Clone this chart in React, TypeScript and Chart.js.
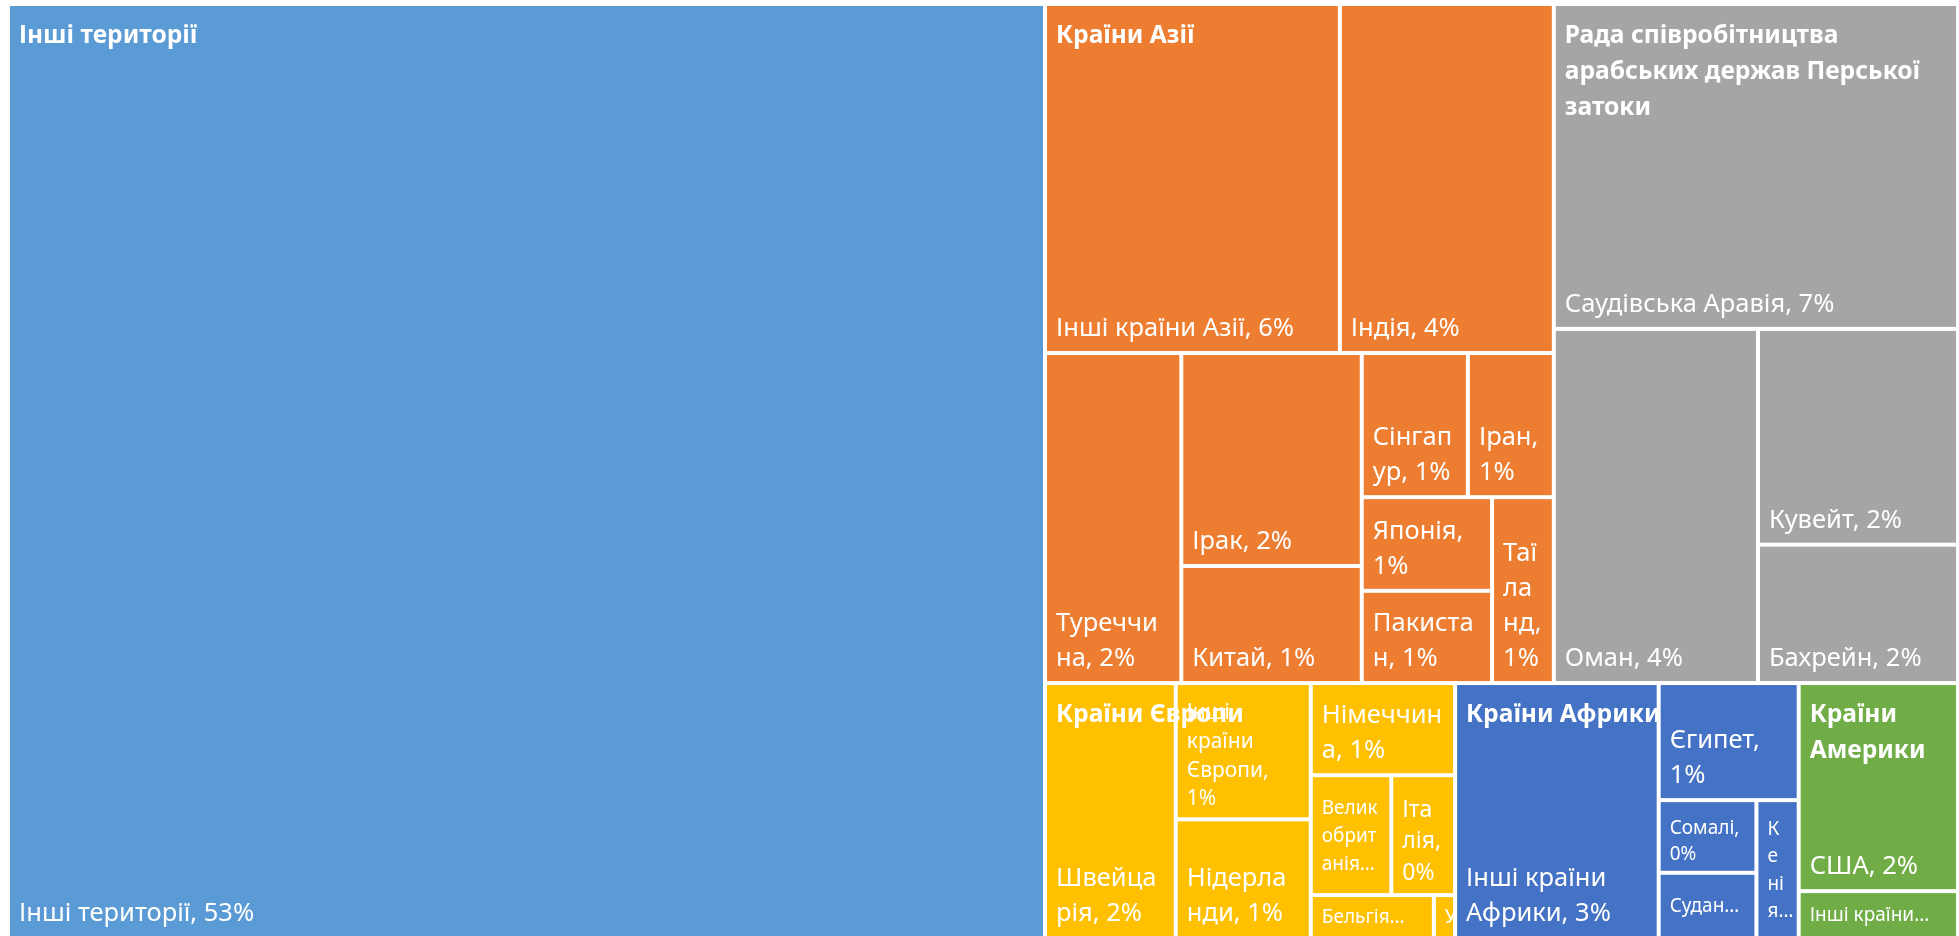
import React, { useEffect, useRef } from "react";
import { Chart, registerables } from "chart.js";

Chart.register(...registerables);

// ---- data (shares of total, %) ----
const groupNames = [
  "Інші території",
  "Країни Азії",
  "Рада співробітництва арабських держав Перської затоки",
  "Країни Європи",
  "Країни Африки",
  "Країни Америки",
];
const groupColors = ["#5B9BD5", "#ED7D31", "#A5A5A5", "#FFC000", "#4472C4", "#70AD47"];

const otherLabels = ["Інші території"];
const otherValues = [53.18];

const asiaLabels = [
  "Інші країни Азії",
  "Індія",
  "Туреччина",
  "Ірак",
  "Китай",
  "Сінгапур",
  "Іран",
  "Японія",
  "Пакистан",
  "Таїланд",
];
const asiaValues = [5.65, 4.1, 2.47, 2.11, 1.16, 0.84, 0.68, 0.67, 0.66, 0.63];

const gccLabels = ["Саудівська Аравія", "Оман", "Кувейт", "Бахрейн"];
const gccValues = [7.21, 3.97, 2.37, 1.52];

const europeLabels = [
  "Швейцарія",
  "Інші країни Європи",
  "Нідерланди",
  "Німеччина",
  "Великобританія",
  "Італія",
  "Бельгія",
  "Угорщина",
];
const europeValues = [1.83, 1.01, 0.88, 0.73, 0.53, 0.42, 0.29, 0.05];

const africaLabels = ["Інші країни Африки", "Єгипет", "Сомалі", "Судан", "Кенія"];
const africaValues = [2.85, 0.9, 0.39, 0.35, 0.32];

const americaLabels = ["США", "Інші країни Америки"];
const americaValues = [1.82, 0.41];

const childLabels = [otherLabels, asiaLabels, gccLabels, europeLabels, africaLabels, americaLabels];
const childValues = [otherValues, asiaValues, gccValues, europeValues, africaValues, americaValues];

// ---- layout helpers ----
type Rect = { x: number; y: number; w: number; h: number };
const TARGET_ASPECT = 1.25; // preferred tile height / width

function rowRects(values: number[], start: number, end: number, rect: Rect, remaining: number): Rect[] {
  let sum = 0;
  for (let k = start; k < end; k++) sum += values[k];
  const out: Rect[] = [];
  if (rect.w >= rect.h) {
    const cw = remaining > 0 ? (rect.w * sum) / remaining : rect.w;
    let cy = rect.y;
    for (let k = start; k < end; k++) {
      const ch = (rect.h * values[k]) / sum;
      out.push({ x: rect.x, y: cy, w: cw, h: ch });
      cy += ch;
    }
  } else {
    const rh = remaining > 0 ? (rect.h * sum) / remaining : rect.h;
    let cx = rect.x;
    for (let k = start; k < end; k++) {
      const cw = (rect.w * values[k]) / sum;
      out.push({ x: cx, y: rect.y, w: cw, h: rh });
      cx += cw;
    }
  }
  return out;
}

function score(rs: Rect[]): number {
  let worst = 0;
  for (const r of rs) {
    const a = r.h / r.w;
    worst = Math.max(worst, a / TARGET_ASPECT, TARGET_ASPECT / a);
  }
  return worst;
}

function squarify(values: number[], area: Rect): Rect[] {
  const out: Rect[] = new Array(values.length);
  const rect = { ...area };
  let remaining = values.reduce((a, b) => a + b, 0);
  let i = 0;
  while (i < values.length) {
    let end = i + 1;
    let best = score(rowRects(values, i, end, rect, remaining));
    while (end < values.length) {
      const s = score(rowRects(values, i, end + 1, rect, remaining));
      if (s > best) break;
      best = s;
      end++;
    }
    const rs = rowRects(values, i, end, rect, remaining);
    rs.forEach((r, k) => (out[i + k] = r));
    let sum = 0;
    for (let k = i; k < end; k++) sum += values[k];
    if (rect.w >= rect.h) {
      const cw = (rect.w * sum) / remaining;
      rect.x += cw;
      rect.w -= cw;
    } else {
      const rh = (rect.h * sum) / remaining;
      rect.y += rh;
      rect.h -= rh;
    }
    remaining -= sum;
    i = end;
  }
  return out;
}

const FONT = '"Noto Sans", "Open Sans", sans-serif';
const BASE_FS = 25.5;
const HEADER_FS = 24.6;

function wrapText(ctx: CanvasRenderingContext2D, text: string, maxW: number): string[] {
  const words = text.split(" ");
  const lines: string[] = [];
  let cur = "";
  for (const word of words) {
    const cand = cur ? cur + " " + word : word;
    if (ctx.measureText(cand).width <= maxW) {
      cur = cand;
      continue;
    }
    if (cur) {
      lines.push(cur);
      cur = "";
    }
    if (ctx.measureText(word).width <= maxW) {
      cur = word;
      continue;
    }
    let piece = "";
    for (const ch of Array.from(word)) {
      if (piece && ctx.measureText(piece + ch).width > maxW) {
        lines.push(piece);
        piece = ch;
      } else piece += ch;
    }
    cur = piece;
  }
  if (cur) lines.push(cur);
  return lines;
}

function drawLeafLabel(ctx: CanvasRenderingContext2D, text: string, r: Rect) {
  const tx = r.x + 11;
  const boxW = Math.max(1, r.w - 22);
  for (const fs of [BASE_FS, 23, 21, 20, 19]) {
    ctx.font = `${fs}px ${FONT}`;
    const lines = wrapText(ctx, text, boxW);
    const lh = fs * 1.37;
    const k = fs / BASE_FS;
    const need = 17 * k + 0.72 * fs + (lines.length - 1) * lh + 19;
    if (need <= r.h) {
      const baseLast = r.y + r.h - 17 * k;
      lines.forEach((ln, i) => ctx.fillText(ln, tx, baseLast - (lines.length - 1 - i) * lh));
      return;
    }
  }
  const fs = 19;
  ctx.font = `${fs}px ${FONT}`;
  const lh = fs * 1.45;
  let lines = wrapText(ctx, text, boxW);
  const maxLines = Math.max(1, Math.floor((r.h - 22) / lh));
  if (lines.length > maxLines) {
    lines = lines.slice(0, maxLines);
    let last = lines[maxLines - 1].replace(/[,\s]+$/, "");
    while (last.length > 1 && ctx.measureText(last + "…").width > boxW) {
      last = last.slice(0, -1).replace(/[,\s]+$/, "");
    }
    lines[maxLines - 1] = last + "…";
  }
  const cy = r.y + r.h / 2;
  lines.forEach((ln, i) => ctx.fillText(ln, tx, cy + (i - (lines.length - 1) / 2) * lh + 0.36 * fs));
}

const treemapPlugin = {
  id: "treemapLayout",
  afterDatasetsDraw(chart: any) {
    const ctx: CanvasRenderingContext2D = chart.ctx;
    const xs = chart.scales.x;
    const ys = chart.scales.y;
    const left = xs.getPixelForValue(0);
    const right = xs.getPixelForValue(1);
    const top = ys.getPixelForValue(1);
    const bottom = ys.getPixelForValue(0);
    const area: Rect = { x: left, y: top, w: right - left, h: bottom - top };

    const totals = childValues.map((v) => v.reduce((a, b) => a + b, 0));
    const grand = totals.reduce((a, b) => a + b, 0);
    const order = totals.map((_, i) => i).sort((a, b) => totals[b] - totals[a]);
    const groupRects = squarify(order.map((i) => totals[i]), area);
    const inset = 2;

    ctx.save();
    ctx.textAlign = "left";
    ctx.textBaseline = "alphabetic";
    order.forEach((gi, k) => {
      const g = groupRects[k];
      const vals = childValues[gi];
      const labs = childLabels[gi];
      const idx = vals.map((_, j) => j).sort((a, b) => vals[b] - vals[a]);
      const rects = squarify(idx.map((j) => vals[j]), g);
      rects.forEach((r, m) => {
        const j = idx[m];
        ctx.fillStyle = groupColors[gi];
        ctx.fillRect(r.x + inset, r.y + inset, r.w - 2 * inset, r.h - 2 * inset);
        ctx.save();
        ctx.beginPath();
        ctx.rect(r.x + inset, r.y + inset, r.w - 2 * inset, r.h - 2 * inset);
        ctx.clip();
        ctx.fillStyle = "#ffffff";
        const pct = Math.round((vals[j] / grand) * 100);
        drawLeafLabel(ctx, `${labs[j]}, ${pct}%`, r);
        ctx.restore();
      });
    });
    // group headers drawn on top of the tiles
    ctx.fillStyle = "#ffffff";
    ctx.font = `bold ${HEADER_FS}px ${FONT}`;
    order.forEach((gi, k) => {
      const g = groupRects[k];
      const lines = wrapText(ctx, groupNames[gi], g.w - 24);
      lines.forEach((ln, i) => ctx.fillText(ln, g.x + 11, g.y + 39 + i * 36));
    });
    ctx.restore();
  },
};

export default function App() {
  const ref = useRef<HTMLCanvasElement>(null);
  useEffect(() => {
    const canvas = ref.current;
    if (!canvas) return;
    const chart = new Chart(canvas, {
      type: "scatter",
      data: { datasets: [{ data: [] }] },
      options: {
        animation: false,
        responsive: false,
        layout: { padding: { left: 8, top: 4, right: 1, bottom: 2 } },
        plugins: {
          legend: { display: false },
          tooltip: { enabled: false },
        },
        scales: {
          x: { type: "linear", min: 0, max: 1, display: false },
          y: { type: "linear", min: 0, max: 1, display: false },
        },
      },
      plugins: [treemapPlugin],
    } as any);
    return () => chart.destroy();
  }, []);
  return (
    <div
      style={{
        position: "fixed",
        left: 0,
        top: 0,
        width: 1959,
        height: 936,
        overflow: "hidden",
        background: "#ffffff",
      }}
    >
      <canvas ref={ref} width={1959} height={940} style={{ display: "block" }} />
    </div>
  );
}
